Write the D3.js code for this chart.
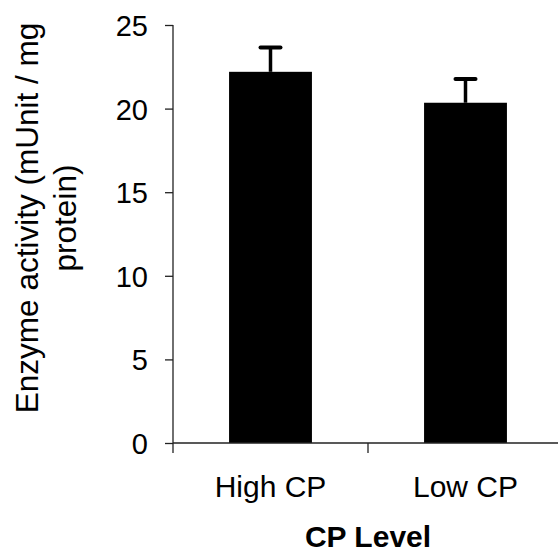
<!DOCTYPE html>
<html>
<head>
<meta charset="utf-8">
<script src="https://cdn.jsdelivr.net/npm/d3@7"></script>
<style>
  body { margin: 0; background: #fff; }
  text { font-family: "Liberation Sans", Arial, Helvetica, sans-serif; fill: #000; }
</style>
</head>
<body>
<div class="canvas"></div>
<script>
var w = 558;
var h = 560;

// data
var categories = ["High CP", "Low CP"];
var activity = [22.2, 20.35];
var stdErr = [1.45, 1.42];
var yTicks = [0, 5, 10, 15, 20, 25];

var xScale = d3.scaleBand()
    .domain(categories)
    .range([173, 563])
    .padding(0);

var yScale = d3.scaleLinear()
    .domain([0, 25])
    .range([443, 25]);

var svg = d3.select(".canvas").append("svg")
    .attr("width", w)
    .attr("height", h);

var barW = xScale.bandwidth() * 0.425;

// bars
svg.selectAll("rect.bar")
    .data(categories)
    .enter().append("rect")
    .attr("class", "bar")
    .attr("x", function (d) { return xScale(d) + xScale.bandwidth() / 2 - barW / 2; })
    .attr("y", function (d, i) { return yScale(activity[i]); })
    .attr("width", barW)
    .attr("height", function (d, i) { return yScale(0) - yScale(activity[i]); })
    .attr("fill", "#000");

// error bars (upper only)
var err = svg.append("g");
categories.forEach(function (c, i) {
    var cx = xScale(c) + xScale.bandwidth() / 2;
    err.append("line")
        .attr("x1", cx).attr("x2", cx)
        .attr("y1", yScale(activity[i]))
        .attr("y2", yScale(activity[i] + stdErr[i]))
        .attr("stroke", "#000")
        .attr("stroke-width", 3.5);
    err.append("line")
        .attr("x1", cx - 10).attr("x2", cx + 10)
        .attr("y1", yScale(activity[i] + stdErr[i]))
        .attr("y2", yScale(activity[i] + stdErr[i]))
        .attr("stroke", "#000")
        .attr("stroke-width", 4)
        .attr("stroke-linecap", "round");
});

// y axis
var yAxis = d3.axisLeft(yScale)
    .tickValues(yTicks)
    .tickSize(8)
    .tickPadding(17);

var gy = svg.append("g")
    .attr("transform", "translate(173,0)")
    .call(yAxis);
gy.select(".domain").remove();
gy.selectAll(".tick line").attr("stroke", "#222").attr("stroke-width", 1.3);
gy.selectAll(".tick text")
    .attr("font-size", "29px")
    .attr("dy", "0.36em");

// y axis line, runs a little below zero like the category ticks
svg.append("line")
    .attr("x1", 173).attr("x2", 173)
    .attr("y1", yScale(25)).attr("y2", yScale(0) + 10)
    .attr("stroke", "#222")
    .attr("stroke-width", 1.3);

// x axis
svg.append("line")
    .attr("x1", 173).attr("x2", w)
    .attr("y1", yScale(0)).attr("y2", yScale(0))
    .attr("stroke", "#222")
    .attr("stroke-width", 1.3);

// tick mark between the categories
svg.selectAll("line.xtick")
    .data(categories.slice(1))
    .enter().append("line")
    .attr("class", "xtick")
    .attr("x1", function (d) { return xScale(d); })
    .attr("x2", function (d) { return xScale(d); })
    .attr("y1", yScale(0))
    .attr("y2", yScale(0) + 10)
    .attr("stroke", "#222")
    .attr("stroke-width", 1.3);

svg.selectAll("text.xlab")
    .data(categories)
    .enter().append("text")
    .attr("class", "xlab")
    .attr("x", function (d) { return xScale(d) + xScale.bandwidth() / 2; })
    .attr("y", 497)
    .attr("text-anchor", "middle")
    .attr("font-size", "30px")
    .text(function (d) { return d; });

// axis titles
svg.append("text")
    .attr("x", 368)
    .attr("y", 547)
    .attr("text-anchor", "middle")
    .attr("font-size", "30px")
    .attr("font-weight", "bold")
    .text("CP Level");

var ylab = svg.append("text")
    .attr("transform", "translate(38,218) rotate(-90)")
    .attr("text-anchor", "middle")
    .attr("font-size", "31.5px");
ylab.append("tspan")
    .attr("x", 0).attr("y", 0)
    .text("Enzyme activity (mUnit / mg");
ylab.append("tspan")
    .attr("x", 0).attr("y", 38)
    .text("protein)");
</script>
</body>
</html>
